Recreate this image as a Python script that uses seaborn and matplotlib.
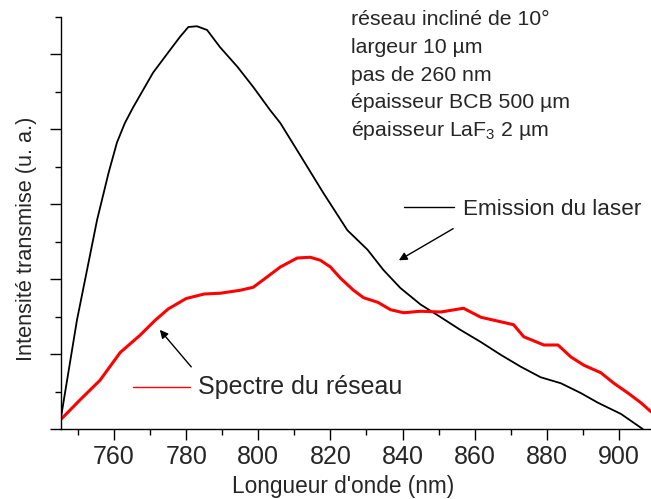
import matplotlib
matplotlib.use("Agg")
import matplotlib.pyplot as plt
from matplotlib.ticker import MultipleLocator, NullFormatter
import pandas as pd
import seaborn as sns

# Emission spectrum of the laser (black)
laser_nm = [745.3, 749.7, 755.3, 758.5, 760.8, 763.0, 765.3, 770.8, 775.0, 778.3,
            780.6, 783.0, 785.8, 789.4, 794.2, 798.6, 803.3, 806.1, 812.0, 818.0,
            824.7, 830.3, 834.7, 839.4, 845.0, 850.6, 856.1, 861.7, 867.2, 872.8,
            878.3, 883.9, 889.4, 894.2, 900.6, 906.6]
laser_int = [0.16, 1.45, 2.79, 3.42, 3.82, 4.08, 4.29, 4.75, 5.02, 5.23,
             5.36, 5.37, 5.32, 5.09, 4.83, 4.56, 4.25, 4.08, 3.62, 3.15,
             2.65, 2.39, 2.12, 1.88, 1.66, 1.49, 1.32, 1.16, 0.99, 0.83,
             0.69, 0.61, 0.48, 0.35, 0.20, 0.00]

# Transmitted spectrum through the grating (red)
grating_nm = [745.5, 750.6, 756.1, 761.7, 767.2, 771.4, 775.0, 780.0, 785.0, 789.4,
              795.0, 798.6, 801.4, 806.1, 810.8, 814.4, 817.2, 820.0, 822.8, 826.4,
              829.2, 833.1, 836.7, 840.3, 845.0, 850.6, 856.9, 861.7, 867.2, 870.8,
              873.6, 879.2, 883.1, 886.7, 890.3, 895.0, 898.6, 902.5, 906.1, 908.9]
grating_int = [0.14, 0.39, 0.65, 1.02, 1.25, 1.45, 1.60, 1.74, 1.80, 1.81,
               1.85, 1.89, 1.99, 2.16, 2.28, 2.29, 2.25, 2.16, 2.01, 1.85,
               1.75, 1.69, 1.59, 1.55, 1.57, 1.56, 1.61, 1.49, 1.43, 1.39,
               1.23, 1.12, 1.12, 0.96, 0.85, 0.75, 0.61, 0.48, 0.35, 0.23]

x_ticks = [760, 780, 800, 820, 840, 860, 880, 900]
info_lines = ["réseau incliné de 10°", "largeur 10 µm", "pas de 260 nm",
              "épaisseur BCB 500 µm", "épaisseur LaF$_3$ 2 µm"]
laser_label = "Emission du laser"
grating_label = "Spectre du réseau"

sns.set_style("ticks")
plt.rcParams["font.family"] = ["Liberation Sans", "DejaVu Sans"]
plt.rcParams["mathtext.default"] = "regular"

W, H = 651, 499
fig = plt.figure(figsize=(W / 100, H / 100), dpi=100)
left_px, bottom_px, top_px = 60.7, 429.0, 16.5
ax = fig.add_axes([left_px / W, 1 - bottom_px / H, (W - left_px) / W, (bottom_px - top_px) / H])

laser = pd.DataFrame({"nm": laser_nm, "I": laser_int})
grating = pd.DataFrame({"nm": grating_nm, "I": grating_int})
sns.lineplot(data=laser, x="nm", y="I", color="black", lw=1.3, ax=ax)
sns.lineplot(data=grating, x="nm", y="I", color="#ff0000", lw=2.2, ax=ax)

ax.set_xlim(745.2, 908.9)
ax.set_ylim(0, 5.5)
ax.set_xticks(x_ticks)
ax.xaxis.set_minor_locator(MultipleLocator(10))
ax.yaxis.set_major_locator(MultipleLocator(1))
ax.yaxis.set_minor_locator(MultipleLocator(0.5))
ax.yaxis.set_major_formatter(NullFormatter())
ax.tick_params(which="major", direction="out", length=8, width=1.0, color="black",
               labelsize=18, pad=3.5)
ax.tick_params(which="minor", direction="out", length=4, width=1.0, color="black")
for side in ("top", "right"):
    ax.spines[side].set_visible(False)
for side in ("left", "bottom"):
    ax.spines[side].set_linewidth(1.0)
    ax.spines[side].set_color("black")
ax.set_xlabel("")
ax.set_ylabel("")

fig.text(343 / W, 1 - 486 / H, "Longueur d'onde (nm)", ha="center", va="center", fontsize=16.3)
fig.text(27 / W, 1 - 239 / H, "Intensité transmise (u. a.)", ha="center", va="center",
         rotation=90, fontsize=15.7)

# parameter block
for text, yb in zip(info_lines, [5.387, 5.013, 4.64, 4.28, 3.907]):
    ax.text(825.6, yb, text, ha="left", va="baseline", fontsize=15.3)

# legend-style labels with arrows
ax.plot([840.3, 854.2], [2.96, 2.96], color="black", lw=1.0)
ax.text(856.7, 2.853, laser_label, ha="left", va="baseline", fontsize=16.2)
ax.annotate("", xy=(838.3, 2.23), xytext=(854.7, 2.69),
            arrowprops=dict(arrowstyle="-|>", color="black", lw=1.0, mutation_scale=12))

ax.plot([765.3, 781.1], [0.56, 0.56], color="#ff0000", lw=1.0)
ax.text(783.3, 0.467, grating_label, ha="left", va="baseline", fontsize=18)
ax.annotate("", xy=(772.2, 1.35), xytext=(781.9, 0.80),
            arrowprops=dict(arrowstyle="-|>", color="black", lw=1.0, mutation_scale=12))

fig.savefig("out.png", dpi=100)
